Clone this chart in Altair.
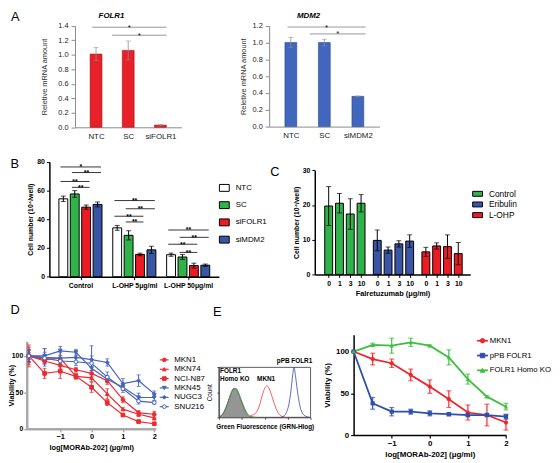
import altair as alt
import pandas as pd

FONT = "Liberation Sans"

# ---------------- Panel A (qPCR) ----------------
a1_cats = ["NTC", "SC", "siFOLR1"]
a1_mean = [1.01, 1.06, 0.03]
a1_err = [0.09, 0.13, 0.01]
a1_yticks = [0.0, 0.2, 0.4, 0.6, 0.8, 1.0, 1.2, 1.4]
a1_sig_from = [-0.12, 0.5]
a1_sig_to = [2.19, 2.19]
a1_sig_y = [1.38, 1.27]

a2_cats = ["NTC", "SC", "siMDM2"]
a2_mean = [1.00, 1.00, 0.36]
a2_err = [0.06, 0.04, 0.005]
a2_yticks = [0.0, 0.2, 0.4, 0.6, 0.8, 1.0, 1.2]
a2_sig_from = [-0.1, 0.57]
a2_sig_to = [2.23, 2.23]
a2_sig_y = [1.185, 1.103]

# ---------------- Panel B ----------------
b_groups = ["Control", "L-OHP  5μg/ml", "L-OHP  50μg/ml"]
b_series = ["NTC", "SC", "siFOLR1", "siMDM2"]
b_colors = ["#ffffff", "#2fb34a", "#ec1c24", "#3a55a6"]
b_ntc = [54.2, 34.0, 15.3]
b_ntc_err = [1.9, 1.7, 1.1]
b_sc = [57.6, 28.8, 13.7]
b_sc_err = [2.3, 3.2, 1.7]
b_sifolr1 = [48.4, 15.5, 7.7]
b_sifolr1_err = [1.5, 0.9, 1.7]
b_simdm2 = [50.3, 18.7, 8.0]
b_simdm2_err = [1.7, 2.5, 0.8]
b_yticks = [0, 20, 40, 60, 80]
b_sig_group = [0, 0, 0, 0, 1, 1, 1, 1, 2, 2, 2, 2]
b_sig_from = [0, 1, 0, 1, 0, 1, 0, 1, 0, 1, 0, 1]
b_sig_to = [3, 3, 2, 2, 3, 3, 2, 2, 3, 3, 2, 2]
b_sig_y = [76.4, 72.5, 66.3, 62.2, 53.0, 47.3, 42.1, 38.1, 32.5, 27.4, 22.6, 16.9]
b_sig_label = ["*", "**", "**", "**", "**", "**", "**", "**", "**", "**", "**", "**"]

# ---------------- Panel C ----------------
c_groups = ["Control", "Eribulin", "L-OHP"]
c_colors = ["#2fb34a", "#3a55a6", "#ec1c24"]
c_doses = ["0", "1", "3", "10"]
c_control = [19.7, 20.5, 17.4, 20.5]
c_control_err = [5.6, 2.8, 4.4, 2.5]
c_eribulin = [9.8, 7.0, 8.8, 9.6]
c_eribulin_err = [3.0, 0.9, 0.9, 1.8]
c_lohp = [6.5, 8.2, 8.0, 6.0]
c_lohp_err = [1.3, 0.9, 3.4, 3.2]
c_yticks = [0, 10, 20, 30]

# ---------------- Panel D ----------------
d_dose = [-2, -1.5, -1, -0.5, 0, 0.5, 1, 1.5, 2]
d_lines = ["MKN1", "MKN74", "NCI-N87", "MKN45", "NUGC3", "SNU216"]
d_colors = ["#ee2a2e", "#ee2a2e", "#ee2a2e", "#4463bb", "#4463bb", "#4463bb"]
d_fills = ["#ee2a2e", "#ee2a2e", "#ee2a2e", "#4463bb", "#4463bb", "#ffffff"]
d_shapes = ["circle", "triangle-up", "square", "triangle-down", "diamond", "circle"]
d_mkn1 = [100, 93, 87, 81, 76, 66, 40, 22, 20]
d_mkn1_err = [8, 4, 5, 3, 4, 5, 4, 3, 4]
d_mkn74 = [100, 95, 97, 72, 70, 48, 27, 20, 15]
d_mkn74_err = [12, 4, 3, 4, 5, 7, 2, 3, 3]
d_ncin87 = [100, 76, 79, 72, 57, 36, 19, 10, 7]
d_ncin87_err = [15, 7, 10, 3, 7, 4, 2, 1, 1]
d_mkn45 = [100, 100, 107, 105, 83, 68, 57, 43, 43]
d_mkn45_err = [5, 10, 6, 4, 7, 5, 4, 6, 4]
d_nugc3 = [100, 98, 97, 98, 95, 91, 62, 66, 48]
d_nugc3_err = [9, 12, 8, 6, 19, 5, 7, 8, 4]
d_snu216 = [100, 97, 93, 92, 90, 71, 55, 38, 36]
d_snu216_err = [8, 8, 5, 5, 10, 7, 5, 4, 2]

# ---------------- Panel E ----------------
e_dose = [-2, -1.5, -1, -0.5, 0, 0.5, 1, 1.5, 2]
e_lines = ["MKN1", "pPB FOLR1", "FOLR1 Homo KO"]
e_colors = ["#f0252b", "#2f4fae", "#3cbf3c"]
e_shapes = ["circle", "square", "triangle-up"]
e_mkn1 = [100, 91, 86, 72, 58, 43, 27, 24, 15]
e_mkn1_err = [0, 7, 5, 7, 8, 10, 9, 13, 9]
e_ppb = [100, 38, 28, 28, 26, 25, 24, 24, 22]
e_ppb_err = [0, 7, 5, 3, 3, 2, 2, 2, 3]
e_ko = [100, 108, 107, 111, 107, 93, 67, 46, 34]
e_ko_err = [0, 2, 9, 5, 1, 9, 6, 1, 4]

# flow cytometry histogram (log decades, % of max count)
h_iso_x = [0.05, 0.15, 0.25, 0.35, 0.45, 0.55, 0.65, 0.75, 0.85, 0.95, 1.05, 1.15, 1.25, 1.4]
h_iso_y = [2, 6, 14, 25, 38, 50, 57, 56, 48, 36, 24, 13, 5, 0]
h_ko_x = [0.05, 0.15, 0.25, 0.35, 0.45, 0.55, 0.65, 0.75, 0.85, 0.95, 1.05, 1.15, 1.25, 1.4, 1.6]
h_ko_y = [1, 5, 12, 24, 38, 51, 58, 58, 50, 38, 26, 15, 7, 2, 0]
h_mkn1_x = [1.3, 1.45, 1.6, 1.7, 1.8, 1.9, 2.0, 2.1, 2.2, 2.3, 2.4, 2.5, 2.6, 2.75, 2.9]
h_mkn1_y = [0, 4, 8, 15, 28, 45, 58, 63, 57, 44, 30, 17, 8, 2, 0]
h_ppb_x = [2.7, 2.85, 2.95, 3.05, 3.15, 3.22, 3.28, 3.35, 3.45, 3.55, 3.65, 3.8, 3.95]
h_ppb_y = [0, 3, 10, 25, 55, 85, 100, 80, 45, 20, 8, 2, 0]
h_xdomain = [0, 4]
h_ydomain = [0, 100]
h_lbl_left = ["FOLR1", "Homo KO"]
h_lbl_left_x = [0.05, 0.05]
h_lbl_left_y = [93, 77]
h_lbl_mid = ["MKN1", "pPB FOLR1"]
h_lbl_mid_x = [2.06, 3.3]
h_lbl_mid_y = [77, 113]

# ---------------- layout (pixels, inside a 552 x 455 view) ----------------
W, H = 552, 455
B_STEP = 4.72   # group spacing in bar units (panel B)
C_STEP = 4.5    # group spacing in bar units (panel C)
# plot-area boxes: (left, right, bottom, top)
BOX_A1 = (68, 176, 117.7, 14.7)
BOX_A2 = (265, 377, 117.0, 14.7)
BOX_B = (42, 214, 269.3, 152.7)
BOX_C = (311.3, 469, 267.0, 161.3)
BOX_D = (19, 150, 423.7, 334.9)
BOX_H = (214, 307, 412.0, 361.3)
BOX_E = (350.7, 505.3, 430.0, 328.3)
# custom legends for the line charts: (line x1, line x2, marker x, label x, first row y, row step)
LEG_D = (154, 163, 158.6, 168.7, 353.7, 9.5)
LEG_E = (476, 487, 481.5, 488.8, 334.3, 15)


def lookup(labels, idx):
    return "[" + ",".join("'" + s + "'" for s in labels) + "][" + idx + "]"


def xscale(domain, box):
    return alt.Scale(domain=domain, range=[box[0], box[1]], nice=False, zero=False)


def yscale(domain, box):
    return alt.Scale(domain=domain, range=[box[2], box[3]], nice=False, zero=False)


def xaxis(box, **kw):
    return alt.Axis(orient="bottom", offset=box[2] - H, grid=False, labelOverlap=False,
                    labelFlush=False, labelAngle=0, **kw)


def yaxis(box, **kw):
    return alt.Axis(orient="left", offset=-box[0], grid=False, labelOverlap=False, **kw)


# ---------------- Panel A builder ----------------
def panel_a(cats, mean, err, yticks, sfrom, sto, sy, fill, stroke, box, tpad):
    n = len(cats)
    df = pd.DataFrame({"pos": list(range(n)), "mean": mean,
                       "lo": [m - e for m, e in zip(mean, err)],
                       "hi": [m + e for m, e in zip(mean, err)]})
    sig = pd.DataFrame({"x1": sfrom, "x2": sto, "y": sy,
                        "xm": [(a + b) / 2 for a, b in zip(sfrom, sto)],
                        "lbl": ["*"] * len(sy)})
    xs = xscale([-0.5, n - 0.5], box)
    ys = yscale([yticks[0], yticks[-1]], box)
    xax = xaxis(box, values=list(range(n)), labelExpr=lookup(cats, "datum.value"), tickSize=0,
                labelPadding=5, labelFontSize=8, labelColor="#1a1a1a", domainColor="#8a8a8a",
                domainWidth=1, title=None)
    yax = yaxis(box, values=yticks, format=".1f", tickSize=4, tickColor="#8a8a8a", labelPadding=3,
                labelFontSize=7.5, labelColor="#1a1a1a", domainColor="#8a8a8a",
                titleFontSize=7.5, titleFontWeight="normal", titleColor="#333333", titlePadding=tpad,
                title="Reletive mRNA amount")

    def X(f):
        return alt.X(f, scale=xs, axis=xax)

    def Y(f):
        return alt.Y(f, scale=ys, axis=yax)

    bars = alt.Chart(df).mark_bar(size=12, color=fill, stroke=stroke, strokeWidth=0.6).encode(
        x=X("pos:Q"), y=Y("mean:Q"))
    errs = alt.Chart(df).mark_errorbar(ticks=True, size=5, thickness=0.8, color="#909090").encode(
        x=X("pos:Q"), y=Y("lo:Q"), y2="hi:Q")
    rules = alt.Chart(sig).mark_rule(color="#8c8c8c", strokeWidth=0.9).encode(
        x=X("x1:Q"), x2="x2:Q", y=Y("y:Q"))
    stars = alt.Chart(sig).mark_text(fontSize=8, baseline="alphabetic", dy=2.5, color="#111111").encode(
        x=X("xm:Q"), y=Y("y:Q"), text="lbl:N")
    return alt.layer(bars, errs, rules, stars)


panel_a1 = panel_a(a1_cats, a1_mean, a1_err, a1_yticks, a1_sig_from, a1_sig_to, a1_sig_y,
                   "#e8202a", "#9b1015", BOX_A1, 9)
panel_a2 = panel_a(a2_cats, a2_mean, a2_err, a2_yticks, a2_sig_from, a2_sig_to, a2_sig_y,
                   "#4166bd", "#2a4686", BOX_A2, 5)

# ---------------- Panel B ----------------
b_means = [b_ntc, b_sc, b_sifolr1, b_simdm2]
b_errs = [b_ntc_err, b_sc_err, b_sifolr1_err, b_simdm2_err]
b_rows = []
for s, name in enumerate(b_series):
    for g in range(len(b_groups)):
        m, e = b_means[s][g], b_errs[s][g]
        b_rows.append({"pos": g * B_STEP + s, "series": name, "mean": m, "lo": m - e, "hi": m + e})
b_df = pd.DataFrame(b_rows)
b_sig = pd.DataFrame({
    "x1": [g * B_STEP + f - 0.25 for g, f in zip(b_sig_group, b_sig_from)],
    "x2": [g * B_STEP + t + 0.3 for g, t in zip(b_sig_group, b_sig_to)],
    "y": b_sig_y, "lbl": b_sig_label})
b_sig["xm"] = (b_sig["x1"] + b_sig["x2"]) / 2

bxs = xscale([-0.79, 13.2], BOX_B)
bys = yscale([0, 80], BOX_B)
bxax = xaxis(BOX_B, values=[g * B_STEP + 1.5 for g in range(len(b_groups))],
             labelExpr=lookup(b_groups, "round((datum.value-1.5)/%s)" % B_STEP),
             tickSize=3, tickColor="black", tickWidth=1, domainColor="black", domainWidth=1.5,
             labelFontSize=7, labelFontWeight="bold", labelColor="black", labelPadding=2, title=None)
byax = yaxis(BOX_B, values=b_yticks, tickSize=3, tickColor="black", tickWidth=1, domainColor="black",
             domainWidth=1.5, labelFontSize=7, labelFontWeight="bold", labelColor="black",
             labelPadding=2, title="Cell number (10⁴/well)", titleFontSize=7,
             titleFontWeight="bold", titleColor="black", titlePadding=3)
b_legend = alt.Legend(orient="none", legendX=214, legendY=173.7, title=None,
                      symbolType="M-1,-0.7H1V0.7H-1Z", symbolSize=100, symbolStrokeColor="black",
                      symbolStrokeWidth=1, labelFontSize=8, labelOffset=6, rowPadding=6.5,
                      padding=0, labelColor="black")
b_bars = alt.Chart(b_df).mark_bar(size=9, stroke="black", strokeWidth=1).encode(
    x=alt.X("pos:Q", scale=bxs, axis=bxax), y=alt.Y("mean:Q", scale=bys, axis=byax),
    fill=alt.Fill("series:N", scale=alt.Scale(domain=b_series, range=b_colors), legend=b_legend))
b_err = alt.Chart(b_df).mark_errorbar(ticks=True, size=5, thickness=1, color="black").encode(
    x=alt.X("pos:Q", scale=bxs, axis=bxax), y=alt.Y("lo:Q", scale=bys, axis=byax), y2="hi:Q")
b_rules = alt.Chart(b_sig).mark_rule(color="black", strokeWidth=0.8).encode(
    x=alt.X("x1:Q", scale=bxs, axis=bxax), x2="x2:Q", y=alt.Y("y:Q", scale=bys, axis=byax))
b_stars = alt.Chart(b_sig).mark_text(fontSize=7, fontWeight="bold", baseline="alphabetic", dy=2.5,
                                     color="black").encode(
    x=alt.X("xm:Q", scale=bxs, axis=bxax), y=alt.Y("y:Q", scale=bys, axis=byax), text="lbl:N")
panel_b = alt.layer(b_bars, b_err, b_rules, b_stars)

# ---------------- Panel C ----------------
c_means = [c_control, c_eribulin, c_lohp]
c_errs = [c_control_err, c_eribulin_err, c_lohp_err]
c_rows = []
for g, name in enumerate(c_groups):
    for d in range(len(c_doses)):
        m, e = c_means[g][d], c_errs[g][d]
        c_rows.append({"pos": g * C_STEP + d, "treat": name, "mean": m, "lo": m - e, "hi": m + e})
c_df = pd.DataFrame(c_rows)
cxs = xscale([-0.83, 12.65], BOX_C)
cys = yscale([0, 30], BOX_C)
cxax = xaxis(BOX_C, values=list(c_df["pos"]), labelExpr=lookup(c_doses, "round(datum.value %% %s)" % C_STEP),
             tickSize=3, tickColor="black", tickWidth=1, domainColor="black", domainWidth=1.5,
             labelFontSize=7, labelFontWeight="bold", labelColor="black", labelPadding=2,
             title="Falretuzumab (μg/ml)", titleFontSize=7.5,
             titleFontWeight="bold", titleColor="black", titlePadding=3)
cyax = yaxis(BOX_C, values=c_yticks, tickSize=3, tickColor="black", tickWidth=1, domainColor="black",
             domainWidth=1.5, labelFontSize=7, labelFontWeight="bold", labelColor="black",
             labelPadding=2, title="Cell number (10⁴/well)", titleFontSize=7,
             titleFontWeight="bold", titleColor="black", titlePadding=3)
c_legend = alt.Legend(orient="none", legendX=471, legendY=179.7, title=None,
                      symbolType="M-1,-0.5H1V0.5H-1Z", symbolSize=100, symbolStrokeColor="black",
                      symbolStrokeWidth=1, labelFontSize=8.5, labelOffset=6, rowPadding=0.8,
                      padding=0, labelColor="black")
c_bars = alt.Chart(c_df).mark_bar(size=8, stroke="black", strokeWidth=1).encode(
    x=alt.X("pos:Q", scale=cxs, axis=cxax), y=alt.Y("mean:Q", scale=cys, axis=cyax),
    fill=alt.Fill("treat:N", scale=alt.Scale(domain=c_groups, range=c_colors), legend=c_legend))
c_err = alt.Chart(c_df).mark_errorbar(ticks=True, size=5, thickness=1, color="black").encode(
    x=alt.X("pos:Q", scale=cxs, axis=cxax), y=alt.Y("lo:Q", scale=cys, axis=cyax), y2="hi:Q")
panel_c = alt.layer(c_bars, c_err)


# ---------------- line-chart helpers ----------------
def custom_legend(names, colors, fills, shapes, leg, size, line_w, font_size, field):
    ldf = pd.DataFrame({field: names})
    ys = alt.Scale(type="point", domain=names, range=[leg[4], leg[4] + leg[5] * (len(names) - 1)],
                   padding=0)
    Yl = alt.Y(field + ":N", scale=ys, axis=None)
    seg = alt.Chart(ldf).mark_rule(strokeWidth=line_w).encode(
        x=alt.value(leg[0]), x2=alt.value(leg[1]), y=Yl,
        color=alt.Color(field + ":N", scale=alt.Scale(domain=names, range=colors), legend=None))
    pts = alt.Chart(ldf).mark_point(size=size, strokeWidth=1, opacity=1).encode(
        x=alt.value(leg[2]), y=Yl,
        stroke=alt.Stroke(field + ":N", scale=alt.Scale(domain=names, range=colors), legend=None),
        fill=alt.Fill(field + ":N", scale=alt.Scale(domain=names, range=fills), legend=None),
        shape=alt.Shape(field + ":N", scale=alt.Scale(domain=names, range=shapes), legend=None))
    txt = alt.Chart(ldf).mark_text(align="left", baseline="middle", fontSize=font_size,
                                   color="black").encode(x=alt.value(leg[3]), y=Yl, text=field + ":N")
    return alt.layer(seg, pts, txt)


# ---------------- Panel D ----------------
d_vals = [d_mkn1, d_mkn74, d_ncin87, d_mkn45, d_nugc3, d_snu216]
d_errs = [d_mkn1_err, d_mkn74_err, d_ncin87_err, d_mkn45_err, d_nugc3_err, d_snu216_err]
d_rows = []
for name, vals, errs in zip(d_lines, d_vals, d_errs):
    for x, v, e in zip(d_dose, vals, errs):
        d_rows.append({"dose": x, "dline": name, "v": v, "lo": v - e, "hi": v + e})
d_df = pd.DataFrame(d_rows)
dxs = xscale([-2.07, 2.05], BOX_D)
dys = yscale([0, 120], BOX_D)
dxax = xaxis(BOX_D, values=[-1, 0, 1, 2], tickSize=3, tickColor="#a9a9a9", tickWidth=1.5,
             domainColor="#a9a9a9", domainWidth=2.5, labelFontSize=7.5, labelFontWeight="bold",
             labelColor="black", labelPadding=1,
             title="log[MORAb-202] (μg/ml)", titleFontSize=7.5, titleFontWeight="bold",
             titleColor="black", titlePadding=3)
dyax = yaxis(BOX_D, values=[0, 50, 100], tickSize=3, tickColor="#a9a9a9", tickWidth=1.5,
             domainColor="#a9a9a9", domainWidth=2.5, labelFontSize=7, labelFontWeight="bold",
             labelColor="black", labelPadding=1, title="Viability (%)", titleFontSize=7.5,
             titleFontWeight="bold", titleColor="black", titleX=-11)
dX = alt.X("dose:Q", scale=dxs, axis=dxax)
d_line = alt.Chart(d_df).mark_line(strokeWidth=1.2).encode(
    x=dX, y=alt.Y("v:Q", scale=dys, axis=dyax),
    stroke=alt.Stroke("dline:N", scale=alt.Scale(domain=d_lines, range=d_colors), legend=None))
d_err = alt.Chart(d_df).mark_errorbar(ticks=True, size=4, thickness=1).encode(
    x=dX, y=alt.Y("lo:Q", scale=dys, axis=dyax), y2="hi:Q",
    color=alt.Color("dline:N", scale=alt.Scale(domain=d_lines, range=d_colors), legend=None))
d_pts = alt.Chart(d_df).mark_point(size=14, strokeWidth=1, opacity=1).encode(
    x=dX, y=alt.Y("v:Q", scale=dys, axis=dyax),
    stroke=alt.Stroke("dline:N", scale=alt.Scale(domain=d_lines, range=d_colors), legend=None),
    fill=alt.Fill("dline:N", scale=alt.Scale(domain=d_lines, range=d_fills), legend=None),
    shape=alt.Shape("dline:N", scale=alt.Scale(domain=d_lines, range=d_shapes), legend=None))
panel_d = alt.layer(d_err, d_line, d_pts)
legend_d = custom_legend(d_lines, d_colors, d_fills, d_shapes, LEG_D, 14, 1.2, 8, "dname")

# ---------------- Panel E: histogram ----------------
h_rows = []
for name, xs_, ys_ in [("iso", h_iso_x, h_iso_y), ("ko", h_ko_x, h_ko_y),
                       ("mkn1", h_mkn1_x, h_mkn1_y), ("ppb", h_ppb_x, h_ppb_y)]:
    for x, y in zip(xs_, ys_):
        h_rows.append({"g": name, "x": x, "y": y})
h_df = pd.DataFrame(h_rows)
hxs = xscale(h_xdomain, BOX_H)
hys = yscale(h_ydomain, BOX_H)
hxax = xaxis(BOX_H, values=[0, 1, 2, 3, 4], labels=False, tickSize=2, tickColor="#555555",
             domainColor="#333333", domainWidth=0.8, title="Green Fluorescence (GRN-Hlog)",
             titleFontSize=6.5, titleFontWeight="bold", titleColor="black", titlePadding=4)
hyax = yaxis(BOX_H, values=[0, 50, 100], labels=False, tickSize=2, tickColor="#555555",
             domainColor="#333333", domainWidth=0.8, title="Count", titleFontSize=6.5,
             titleFontWeight="normal", titleColor="black", titlePadding=4)
hX = alt.X("x:Q", scale=hxs, axis=hxax)
hY = alt.Y("y:Q", scale=hys, axis=hyax)
h_frame = alt.Chart(pd.DataFrame({"x": [h_xdomain[0]], "x2": [h_xdomain[1]],
                                  "y": [h_ydomain[0]], "y2": [h_ydomain[1]]})).mark_rect(
    fillOpacity=0, stroke="#333333", strokeWidth=0.8).encode(x=hX, x2="x2:Q", y=hY, y2="y2:Q")
h_area = alt.Chart(h_df).transform_filter("datum.g == 'iso'").mark_area(
    color="#8f8f8f", opacity=0.95, line={"color": "#555555", "strokeWidth": 0.7},
    interpolate="monotone").encode(x=hX, y=hY)
h_lines = alt.Chart(h_df).transform_filter("datum.g != 'iso'").mark_line(
    strokeWidth=0.8, interpolate="monotone").encode(
    x=hX, y=hY,
    stroke=alt.Stroke("g:N", scale=alt.Scale(domain=["ko", "mkn1", "ppb"],
                                             range=["#2f8f3a", "#ee3a3a", "#3344b0"]), legend=None))
h_t1 = alt.Chart(pd.DataFrame({"x": h_lbl_left_x, "y": h_lbl_left_y, "t": h_lbl_left})).mark_text(
    fontSize=6.5, fontWeight="bold", align="left", color="black").encode(x=hX, y=hY, text="t:N")
h_t2 = alt.Chart(pd.DataFrame({"x": h_lbl_mid_x, "y": h_lbl_mid_y, "t": h_lbl_mid})).mark_text(
    fontSize=6.5, fontWeight="bold", align="center", color="black").encode(x=hX, y=hY, text="t:N")
panel_h = alt.layer(h_frame, h_area, h_lines, h_t1, h_t2)

# ---------------- Panel E: viability ----------------
e_vals = [e_mkn1, e_ppb, e_ko]
e_errs = [e_mkn1_err, e_ppb_err, e_ko_err]
e_rows = []
for name, vals, errs in zip(e_lines, e_vals, e_errs):
    for x, v, e in zip(e_dose, vals, errs):
        e_rows.append({"dose": x, "eline": name, "v": v, "lo": v - e, "hi": v + e})
e_df = pd.DataFrame(e_rows)
exs = xscale([-2, 2], BOX_E)
eys = yscale([0, 120], BOX_E)
exax = xaxis(BOX_E, values=[-1, 0, 1, 2], tickSize=3, tickColor="black", tickWidth=1.2,
             domainColor="black", domainWidth=1.5, labelFontSize=8, labelFontWeight="bold",
             labelColor="black", labelPadding=2,
             title="log[MORAb-202] (μg/ml)", titleFontSize=8, titleFontWeight="bold",
             titleColor="black", titlePadding=3)
eyax = yaxis(BOX_E, values=[0, 50, 100], tickSize=3, tickColor="black", tickWidth=1.2,
             domainColor="black", domainWidth=1.5, labelFontSize=8, labelFontWeight="bold",
             labelColor="black", labelPadding=2, title="Viability (%)", titleFontSize=8,
             titleFontWeight="bold", titleColor="black", titlePadding=4)
eX = alt.X("dose:Q", scale=exs, axis=exax)
e_line = alt.Chart(e_df).mark_line(strokeWidth=1.8).encode(
    x=eX, y=alt.Y("v:Q", scale=eys, axis=eyax),
    stroke=alt.Stroke("eline:N", scale=alt.Scale(domain=e_lines, range=e_colors), legend=None))
e_err = alt.Chart(e_df).mark_errorbar(ticks=True, size=5, thickness=1.2).encode(
    x=eX, y=alt.Y("lo:Q", scale=eys, axis=eyax), y2="hi:Q",
    color=alt.Color("eline:N", scale=alt.Scale(domain=e_lines, range=e_colors), legend=None))
e_pts = alt.Chart(e_df).mark_point(size=18, filled=True, opacity=1).encode(
    x=eX, y=alt.Y("v:Q", scale=eys, axis=eyax),
    color=alt.Color("eline:N", scale=alt.Scale(domain=e_lines, range=e_colors), legend=None),
    shape=alt.Shape("eline:N", scale=alt.Scale(domain=e_lines, range=e_shapes), legend=None))
panel_e = alt.layer(e_err, e_line, e_pts)
legend_e = custom_legend(e_lines, e_colors, e_colors, e_shapes, LEG_E, 20, 1.8, 7.9, "ename")

# ---------------- panel letters and gene titles ----------------
one = pd.DataFrame({"k": [0]})


def label(text, x, y, size=13, weight="normal", style="normal", align="left"):
    return alt.Chart(one).mark_text(text=text, fontSize=size, fontWeight=weight, fontStyle=style,
                                    align=align, baseline="alphabetic", color="black").encode(
        x=alt.value(x), y=alt.value(y))


labels = alt.layer(
    label("A", 3, 10), label("B", 2.5, 159), label("C", 266, 167),
    label("D", 2.5, 307), label("E", 208, 309),
    label("FOLR1", 105, 6.5, size=8, weight="bold", style="italic", align="center"),
    label("MDM2", 305, 6.5, size=8, weight="bold", style="italic", align="center"),
)

chart = alt.layer(panel_a1, panel_a2, panel_b, panel_c, panel_d, legend_d, panel_h, panel_e,
                  legend_e, labels).resolve_scale(
    x="independent", y="independent", color="independent", fill="independent",
    stroke="independent", shape="independent"
).resolve_axis(x="independent", y="independent").resolve_legend(
    color="independent", fill="independent", stroke="independent", shape="independent"
).properties(
    width=W, height=H, padding=0, autosize=alt.AutoSizeParams(type="none")
).configure(font=FONT).configure_view(stroke=None).configure_axis(
    grid=False, labelFont=FONT, titleFont=FONT).configure_legend(labelFont=FONT)

chart.save("out.html", embed_options={"renderer": "svg", "actions": False})
